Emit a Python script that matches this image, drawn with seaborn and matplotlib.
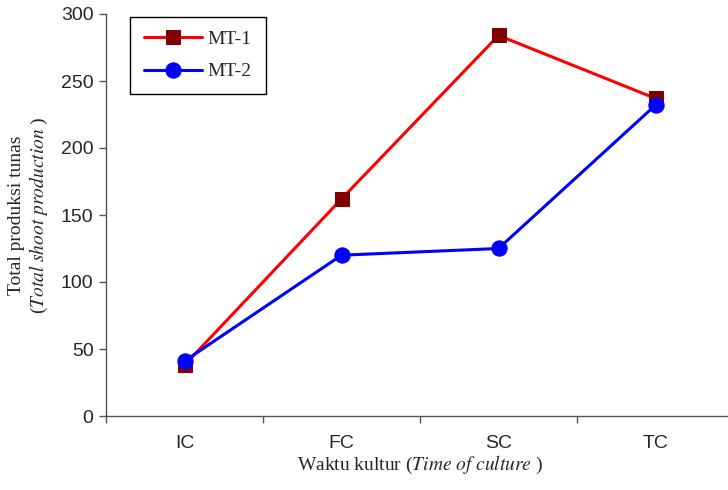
import pandas as pd
import numpy as np
import seaborn as sns
import matplotlib as mpl
import matplotlib.pyplot as plt

# values
categories = ["IC", "FC", "SC", "TC"]
mt1 = [38, 162, 284, 237]
mt2 = [41, 120, 125, 232]
y_ticks = [0, 50, 100, 150, 200, 250, 300]

df = pd.DataFrame({"waktu": categories * 2,
                   "total": mt1 + mt2,
                   "seri": ["MT-1"] * 4 + ["MT-2"] * 4})

sns.set_theme(style="ticks")
plt.rcParams['font.family'] = ['Liberation Sans', 'DejaVu Sans']
plt.rcParams['mathtext.fontset'] = 'stix'

fig = plt.figure(figsize=(7.28, 4.90), dpi=100)
ax = fig.add_axes([106 / 728, 74 / 490, 628 / 728, 402 / 490])

sns.lineplot(data=df[df.seri == "MT-1"], x="waktu", y="total", ax=ax, color="#ff0000",
             linewidth=2.2, marker="s", markersize=10.5, markerfacecolor="#800000",
             markeredgecolor="#800000", label="MT-1")
sns.lineplot(data=df[df.seri == "MT-2"], x="waktu", y="total", ax=ax, color="#0000ff",
             linewidth=2.2, marker="o", markersize=11, markerfacecolor="#0000ff",
             markeredgecolor="#0000ff", label="MT-2")

ax.set_xlim(-0.5, 3.5)
ax.set_ylim(0, 300)
ax.set_yticks(y_ticks)
ax.set_xticks(np.arange(-0.5, 4, 1), minor=False)
ax.set_xticklabels([])
ax.set_xticks(range(len(categories)), minor=True)
ax.set_xticklabels(categories, minor=True)
ax.tick_params(axis="x", which="minor", length=0, pad=14, labelsize=14)
ax.tick_params(axis="x", which="major", length=5, width=1, color="#555555")
ax.tick_params(axis="y", length=5, width=1, color="#555555", labelsize=14, pad=4)
sns.despine(ax=ax)
for s in ["left", "bottom"]:
    ax.spines[s].set_color("#555555")
    ax.spines[s].set_linewidth(1)

serif = ['Liberation Serif', 'DejaVu Serif']
ax.set_xlabel(r"Waktu kultur ($\mathit{Time\ of\ culture}$ )", family=serif, fontsize=14, labelpad=1)
ax.set_ylabel("Total produksi tunas\n" + r"($\mathit{Total\ shoot\ production}$ )", family=serif,
              fontsize=14, labelpad=8, linespacing=1.15)

leg = ax.legend(loc="upper left", bbox_to_anchor=(130 / 728, 1 - 17 / 490),
                bbox_transform=fig.transFigure, borderaxespad=0, frameon=True, fancybox=False,
                edgecolor="black", handlelength=3.0, labelspacing=0.75, borderpad=0.7,
                handletextpad=0.3, prop={"family": serif, "size": 14})
leg.get_frame().set_linewidth(1)
leg.get_frame().set_alpha(1)

plt.savefig("out.png", dpi=100)
